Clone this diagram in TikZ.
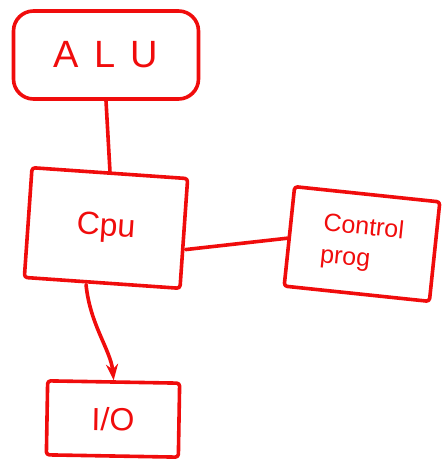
\documentclass[tikz,border=0pt]{standalone}
\usepackage{fontspec}
\setmainfont{Liberation Sans}
\usetikzlibrary{arrows.meta}
\definecolor{ink}{RGB}{240,12,12}
\begin{document}
\begin{tikzpicture}[x=1pt,y=-1pt,
  pen/.style={draw=ink,line width=3.6pt,line cap=round,line join=round},
  blockbox/.style={pen,rectangle,inner sep=0pt,text=ink},
  label/.style={text=ink,font=\fontsize{32}{32}\selectfont}]
\useasboundingbox (0,0) rectangle (445,463);

% blocks
\node[blockbox,rounded corners=20pt,minimum width=185pt,minimum height=88pt,
      label,font=\fontsize{38}{38}\selectfont\addfontfeature{LetterSpace=40}] (alu) at (106,55) {ALU};
\node[blockbox,rounded corners=3pt,minimum width=156pt,minimum height=110pt,rotate=-4,
      label] (cpu) at (106,228) {Cpu};
\node[blockbox,rounded corners=3pt,minimum width=146pt,minimum height=100pt,rotate=-6,
      align=left,font=\fontsize{25}{32}\selectfont] (ctrl) at (362,244) {Control\\prog};
\node[blockbox,rounded corners=3pt,minimum width=132pt,minimum height=74pt,rotate=-1,
      label] (io) at (113,419) {I/O};

% connectors
\draw[pen] (alu.south) -- (cpu.north);
\draw[pen] ([yshift=-16pt]cpu.east) -- ([yshift=-2pt]ctrl.west);
\draw[pen,-{Stealth[length=16pt,width=12pt,open,line width=2.6pt]}] ([xshift=-16pt]cpu.south)
  .. controls ([xshift=-12pt,yshift=-40pt]cpu.south) and ([xshift=-3pt,yshift=30pt]io.north) .. (io.north);
\end{tikzpicture}
\end{document}
